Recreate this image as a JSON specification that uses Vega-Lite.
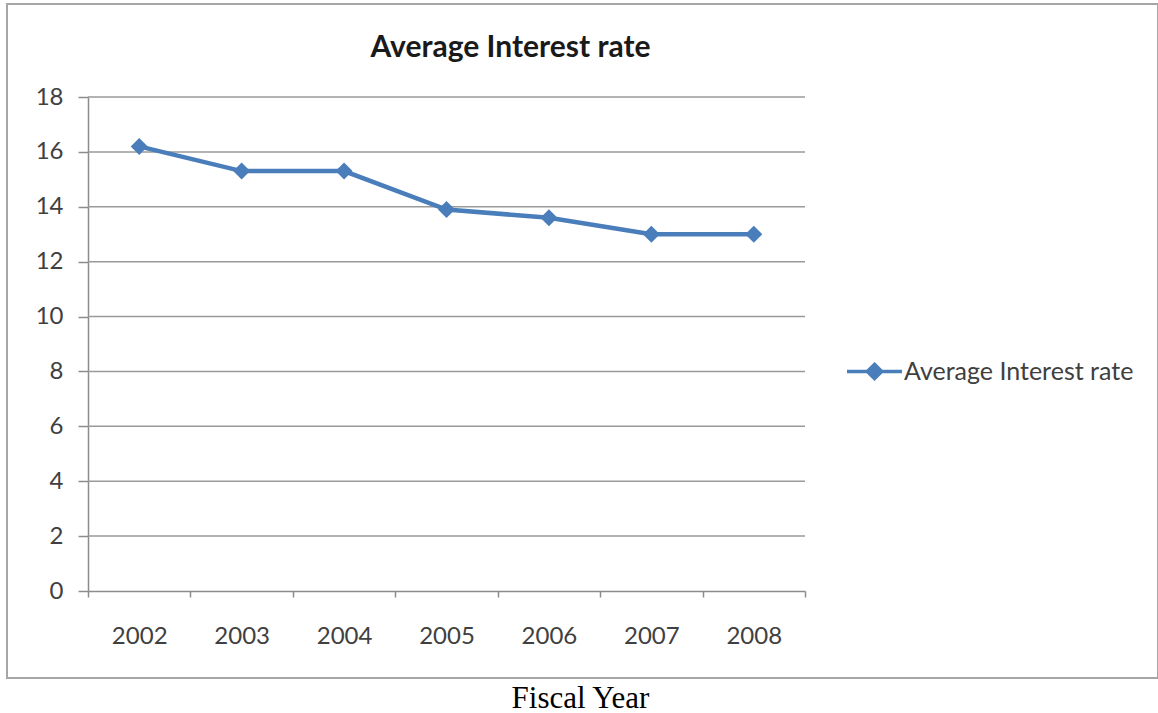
{
  "$schema": "https://vega.github.io/schema/vega-lite/v6.json",
  "width": 1151,
  "height": 674,
  "autosize": {"type": "none"},
  "padding": {"left": 7, "top": 4, "right": 0, "bottom": 35},
  "background": "white",
  "config": {
    "view": {"stroke": "#a6a6a6", "strokeWidth": 2},
    "font": "Lato"
  },
  "title": {
    "text": "Average Interest rate",
    "font": "Lato",
    "fontSize": 30,
    "fontWeight": "bold",
    "color": "#1a1a1a",
    "anchor": "middle",
    "frame": "group",
    "baseline": "middle",
    "offset": -74,
    "dx": -72
  },
  "datasets": {
    "rates": [
      {"year": 2002, "rate": 16.2},
      {"year": 2003, "rate": 15.3},
      {"year": 2004, "rate": 15.3},
      {"year": 2005, "rate": 13.9},
      {"year": 2006, "rate": 13.6},
      {"year": 2007, "rate": 13.0},
      {"year": 2008, "rate": 13.0}
    ],
    "gridLevels": [
      {"level": 2}, {"level": 4}, {"level": 6}, {"level": 8},
      {"level": 10}, {"level": 12}, {"level": 14}, {"level": 16}, {"level": 18}
    ]
  },
  "layer": [
    {
      "data": {"name": "gridLevels"},
      "mark": {"type": "rule", "color": "#9a9a9a", "strokeWidth": 1.5},
      "encoding": {
        "y": {"field": "level", "type": "quantitative", "scale": {"domain": [0, 18], "range": [587, 93]}},
        "x": {"datum": 2001.5, "type": "quantitative"},
        "x2": {"datum": 2008.5}
      }
    },
    {
      "data": {"name": "rates"},
      "mark": {
        "type": "line",
        "strokeWidth": 4.5,
        "point": {"shape": "diamond", "size": 290, "filled": true, "color": "#4a7ebb"}
      },
      "encoding": {
        "x": {
          "field": "year",
          "type": "quantitative",
          "scale": {"domain": [2001.5, 2008.5], "range": [81, 798], "zero": false, "nice": false},
          "axis": {
            "values": [2001.5, 2002, 2002.5, 2003, 2003.5, 2004, 2004.5, 2005, 2005.5, 2006, 2006.5, 2007, 2007.5, 2008, 2008.5],
            "labelExpr": "datum.value % 1 === 0 ? '' + datum.value : ''",
            "labelOverlap": false,
            "labelFlush": false,
            "labelFont": "Lato",
            "labelFontSize": 24,
            "labelColor": "#404040",
            "labelPadding": 27,
            "offset": -87,
            "grid": false,
            "domainColor": "#8c8c8c",
            "domainWidth": 1.5,
            "tickColor": "#8c8c8c",
            "tickWidth": 1.5,
            "tickSize": 6,
            "tickOpacity": {"condition": {"test": "datum.value % 1 === 0", "value": 0}, "value": 1},
            "title": "Fiscal Year",
            "titleFont": "Liberation Serif",
            "titleFontSize": 31,
            "titleFontWeight": "normal",
            "titleColor": "#000000",
            "titleAlign": "center",
            "titleBaseline": "alphabetic",
            "titleX": 573,
            "titleY": 116
          }
        },
        "y": {
          "field": "rate",
          "type": "quantitative",
          "scale": {"domain": [0, 18], "range": [587, 93]},
          "axis": {
            "values": [0, 2, 4, 6, 8, 10, 12, 14, 16, 18],
            "offset": -81,
            "grid": false,
            "labelFont": "Lato",
            "labelFontSize": 24,
            "labelColor": "#404040",
            "labelPadding": 15,
            "domainColor": "#8c8c8c",
            "domainWidth": 1.5,
            "tickColor": "#8c8c8c",
            "tickWidth": 1.5,
            "tickSize": 10,
            "title": null
          }
        },
        "color": {
          "datum": "Average Interest rate",
          "type": "nominal",
          "scale": {"range": ["#4a7ebb"]},
          "legend": {
            "orient": "none",
            "legendX": 838,
            "legendY": 338,
            "title": null,
            "padding": 0,
            "symbolType": "M-1,0H1M0,-0.26L0.26,0L0,0.26L-0.26,0Z",
            "symbolSize": 3025,
            "symbolStrokeWidth": 3.5,
            "symbolStrokeColor": "#4a7ebb",
            "symbolFillColor": "#4a7ebb",
            "labelFont": "Lato",
            "labelFontSize": 25,
            "labelLimit": 400,
            "labelColor": "#404040",
            "labelOffset": 0
          }
        }
      }
    }
  ]
}
